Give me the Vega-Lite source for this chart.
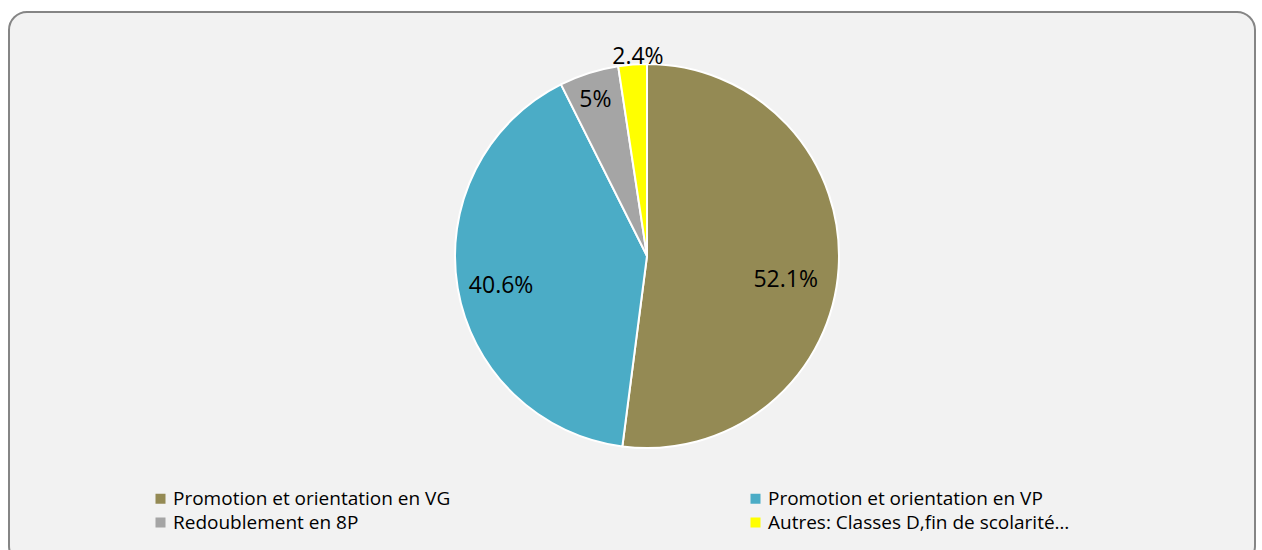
{
  "$schema": "https://vega.github.io/schema/vega-lite/v6.json",
  "autosize": {"type": "fit", "contains": "padding"},
  "width": 1262,
  "height": 550,
  "padding": {"top": 11, "left": 8, "right": 6, "bottom": -15},
  "background": "white",
  "config": {
    "view": {"stroke": null},
    "font": "Open Sans"
  },
  "data": {
    "values": [
      {"cat": "Promotion et orientation en VG", "value": 52.1, "label": "52.1%"},
      {"cat": "Promotion et orientation en VP", "value": 40.6, "label": "40.6%"},
      {"cat": "Redoublement en 8P", "value": 5, "label": "5%"},
      {"cat": "Autres: Classes D,fin de scolarité…", "value": 2.4, "label": "2.4%"}
    ]
  },
  "layer": [
    {
      "data": {"values": [{"frame": 1}]},
      "mark": {"type": "rect", "fill": "#f2f2f2", "stroke": "#858585", "strokeWidth": 2, "cornerRadius": 18, "x": 0, "x2": {"expr": "width"}, "y": 0, "y2": {"expr": "height"}},
      "encoding": {}
    },
    {
      "encoding": {
        "theta": {"field": "value", "type": "quantitative", "stack": true},
        "order": {"field": "value", "type": "quantitative", "sort": "descending"},
        "color": {
          "field": "cat",
          "type": "nominal",
          "scale": {
            "domain": ["Promotion et orientation en VG", "Redoublement en 8P", "Promotion et orientation en VP", "Autres: Classes D,fin de scolarité…"],
            "range": ["#948A54", "#A5A5A5", "#4BACC6", "#FFFF00"]
          },
          "legend": {
            "title": null,
            "orient": "none",
            "legendX": 142,
            "legendY": 477,
            "columns": 2,
            "columnPadding": 295,
            "rowPadding": 4,
            "symbolType": "square",
            "symbolSize": 100,
            "symbolStrokeWidth": 0,
            "labelFontSize": 19,
            "labelFont": "Open Sans",
            "labelColor": "#000000",
            "labelLimit": 500,
            "labelOffset": 3
          }
        }
      },
      "layer": [
        {
          "mark": {"type": "arc", "outerRadius": 192, "stroke": "white", "strokeWidth": 2, "x": {"expr": "width/2+15"}, "y": {"expr": "height/2-32"}}
        },
        {
          "mark": {"type": "text", "radius": 139, "dy": 15, "fontSize": 23, "x": {"expr": "width/2+15"}, "y": {"expr": "height/2-32"}},
          "encoding": {"text": {"condition": {"test": "datum.cat === 'Promotion et orientation en VG'", "field": "label"}, "value": ""}, "color": {"value": "black"}}
        },
        {
          "mark": {"type": "text", "radius": 148, "dy": 5, "fontSize": 23, "x": {"expr": "width/2+15"}, "y": {"expr": "height/2-32"}},
          "encoding": {"text": {"condition": {"test": "datum.cat === 'Promotion et orientation en VP'", "field": "label"}, "value": ""}, "color": {"value": "black"}}
        },
        {
          "mark": {"type": "text", "radius": 164, "dx": -2, "fontSize": 23, "x": {"expr": "width/2+15"}, "y": {"expr": "height/2-32"}},
          "encoding": {"text": {"condition": {"test": "datum.cat === 'Redoublement en 8P'", "field": "label"}, "value": ""}, "color": {"value": "black"}}
        },
        {
          "mark": {"type": "text", "radius": 200, "dx": 6, "fontSize": 23, "x": {"expr": "width/2+15"}, "y": {"expr": "height/2-32"}},
          "encoding": {"text": {"condition": {"test": "datum.cat === 'Autres: Classes D,fin de scolarité…'", "field": "label"}, "value": ""}, "color": {"value": "black"}}
        }
      ]
    }
  ]
}
